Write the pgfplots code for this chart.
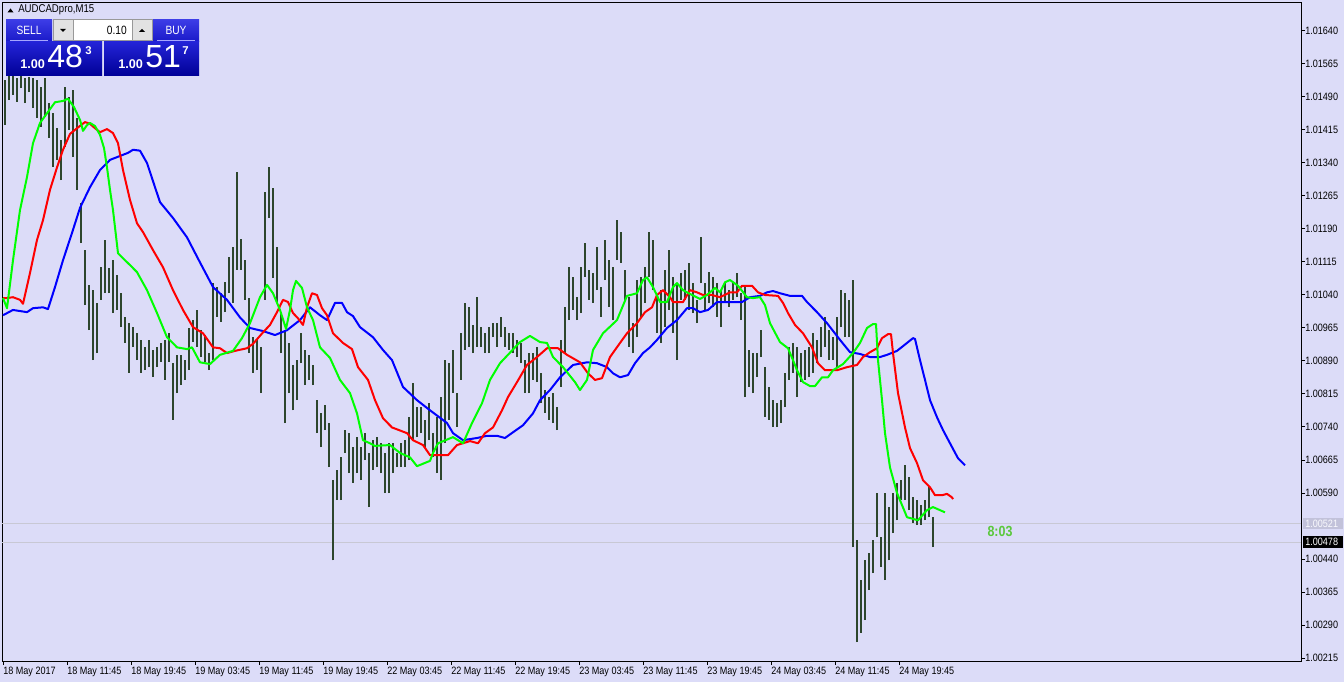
\documentclass[border=0pt]{standalone}
\usepackage{fontspec}
\setmainfont{Liberation Sans}[FakeStretch=0.85]
\newfontfamily\panelfont{Liberation Sans}
\usepackage{pgfplots}
\pgfplotsset{compat=1.18}
\usepackage{pgfplotstable}

\definecolor{bgcol}{RGB}{220,220,248}
\definecolor{barcol}{RGB}{45,70,45}
\definecolor{jawcol}{RGB}{0,0,255}
\definecolor{teethcol}{RGB}{255,0,0}
\definecolor{lipscol}{RGB}{0,255,0}
\definecolor{linecol}{RGB}{200,200,212}
\definecolor{btnTop}{RGB}{60,60,230}
\definecolor{btnBot}{RGB}{25,25,200}
\definecolor{prcTop}{RGB}{35,35,215}
\definecolor{prcBot}{RGB}{0,0,150}
\definecolor{spin}{RGB}{226,226,226}
\definecolor{timer}{RGB}{90,200,60}

% M15 bars: x position, low, high
\pgfplotstableread{
x lo hi
5 1.01426 1.01529
9 1.01483 1.01538
13 1.01495 1.01540
17 1.01479 1.01533
21 1.01510 1.01538
25 1.01476 1.01533
29 1.01501 1.01535
33 1.01465 1.01533
37 1.01442 1.01529
41 1.01422 1.01513
45 1.01445 1.01533
49 1.01397 1.01476
53 1.01331 1.01454
57 1.01347 1.01420
61 1.01301 1.01392
65 1.01376 1.01513
69 1.01415 1.01490
73 1.01354 1.01506
77 1.01279 1.01442
81 1.01158 1.01249
85 1.01017 1.01142
89 1.00960 1.01063
93 1.00892 1.01051
97 1.00908 1.01022
101 1.01029 1.01104
105 1.01044 1.01165
109 1.01044 1.01101
113 1.00999 1.01119
117 1.01006 1.01085
121 1.00967 1.01044
125 1.00931 1.00990
129 1.00863 1.00976
133 1.00922 1.00967
137 1.00892 1.00954
141 1.00863 1.00938
145 1.00869 1.00922
149 1.00876 1.00938
153 1.00854 1.00915
157 1.00876 1.00922
161 1.00888 1.00931
165 1.00847 1.00938
169 1.00888 1.00954
173 1.00756 1.00885
177 1.00817 1.00904
181 1.00835 1.00904
185 1.00847 1.00892
189 1.00869 1.00965
193 1.00933 1.00983
197 1.00922 1.01006
201 1.00899 1.00960
205 1.00888 1.00949
209 1.00869 1.00908
213 1.00892 1.01067
217 1.00990 1.01058
221 1.00979 1.01044
225 1.01001 1.01070
229 1.01044 1.01126
233 1.01022 1.01149
237 1.01097 1.01320
241 1.01097 1.01167
245 1.01029 1.01119
249 1.00908 1.01033
253 1.00863 1.00944
257 1.00869 1.00938
261 1.00817 1.00922
265 1.01029 1.01274
269 1.01215 1.01331
273 1.01079 1.01283
277 1.01022 1.01149
281 1.00908 1.00999
285 1.00749 1.00960
289 1.00817 1.00931
293 1.00778 1.00881
297 1.00801 1.00892
301 1.00885 1.00954
305 1.00835 1.00915
309 1.00847 1.00904
313 1.00835 1.00881
317 1.00726 1.00801
321 1.00694 1.00772
325 1.00733 1.00790
329 1.00649 1.00749
333 1.00437 1.00619
337 1.00574 1.00642
341 1.00574 1.00672
345 1.00681 1.00733
349 1.00635 1.00726
353 1.00613 1.00694
357 1.00635 1.00717
361 1.00619 1.00694
365 1.00665 1.00726
369 1.00558 1.00681
373 1.00642 1.00710
377 1.00649 1.00717
381 1.00635 1.00703
385 1.00590 1.00681
389 1.00590 1.00703
393 1.00635 1.00703
397 1.00649 1.00681
401 1.00649 1.00703
405 1.00649 1.00710
409 1.00665 1.00763
413 1.00710 1.00840
417 1.00717 1.00785
421 1.00726 1.00785
425 1.00694 1.00756
429 1.00710 1.00794
433 1.00672 1.00726
437 1.00635 1.00763
441 1.00619 1.00808
445 1.00703 1.00892
449 1.00756 1.00885
453 1.00817 1.00915
457 1.00740 1.00817
461 1.00847 1.00954
465 1.00915 1.01022
469 1.00922 1.01013
473 1.00908 1.00972
477 1.00922 1.01035
481 1.00922 1.00967
485 1.00908 1.00954
489 1.00908 1.00967
493 1.00944 1.00976
497 1.00922 1.00976
501 1.00944 1.00990
505 1.00922 1.00967
509 1.00915 1.00954
513 1.00908 1.00954
517 1.00899 1.00938
521 1.00885 1.00931
525 1.00817 1.00892
529 1.00817 1.00908
533 1.00847 1.00908
537 1.00842 1.00922
541 1.00794 1.00863
545 1.00772 1.00824
549 1.00756 1.00808
553 1.00749 1.00817
557 1.00733 1.00785
561 1.00831 1.00938
565 1.00908 1.01013
569 1.00983 1.01104
573 1.01006 1.01081
577 1.00983 1.01035
581 1.00999 1.01104
585 1.01081 1.01158
589 1.01029 1.01097
593 1.01022 1.01090
597 1.01051 1.01149
601 1.00990 1.01058
605 1.01074 1.01165
609 1.01013 1.01119
613 1.00983 1.01104
617 1.01119 1.01210
621 1.01113 1.01183
625 1.01029 1.01097
629 1.00922 1.01035
633 1.00908 1.00976
637 1.00944 1.01074
641 1.00990 1.01081
645 1.01022 1.01104
649 1.01081 1.01183
653 1.01051 1.01165
657 1.00954 1.01035
661 1.00931 1.01051
665 1.00967 1.01097
669 1.01006 1.01142
673 1.00954 1.01081
677 1.00892 1.01067
681 1.01029 1.01090
685 1.01029 1.01097
689 1.01006 1.01113
693 1.00999 1.01067
697 1.00976 1.01029
701 1.01067 1.01172
705 1.01006 1.01067
709 1.01022 1.01092
713 1.01013 1.01081
717 1.00990 1.01067
721 1.00967 1.01051
725 1.01022 1.01067
729 1.01013 1.01051
733 1.01029 1.01067
737 1.01035 1.01090
741 1.00983 1.01044
745 1.00808 1.01058
749 1.00831 1.00915
753 1.00817 1.00908
757 1.00854 1.00908
761 1.00899 1.00960
765 1.00763 1.00876
769 1.00756 1.00831
773 1.00740 1.00801
777 1.00740 1.00794
781 1.00749 1.00801
785 1.00785 1.00863
789 1.00847 1.00922
793 1.00863 1.00931
797 1.00808 1.00922
801 1.00842 1.00908
805 1.00847 1.00915
809 1.00854 1.00922
813 1.00863 1.00954
817 1.00885 1.00938
821 1.00899 1.00967
825 1.00922 1.00990
829 1.00892 1.00960
833 1.00892 1.00944
837 1.00876 1.00990
841 1.00967 1.01051
845 1.00944 1.01044
849 1.00944 1.01029
853 1.00467 1.01074
857 1.00251 1.00483
861 1.00272 1.00392
865 1.00301 1.00437
869 1.00369 1.00453
873 1.00408 1.00483
877 1.00490 1.00590
881 1.00422 1.00490
885 1.00392 1.00590
889 1.00437 1.00558
893 1.00499 1.00590
897 1.00528 1.00613
901 1.00574 1.00619
905 1.00574 1.00653
909 1.00551 1.00626
913 1.00522 1.00581
917 1.00517 1.00574
921 1.00517 1.00562
925 1.00528 1.00574
929 1.00535 1.00603
933 1.00467 1.00535
}\bars

% blue line
\pgfplotstableread{
x y
3 1.00994
13 1.01006
27 1.01001
33 1.01010
43 1.01012
48 1.01008
55 1.01058
63 1.01119
72 1.01181
80 1.01238
90 1.01285
100 1.01324
110 1.01347
120 1.01356
128 1.01363
133 1.01370
140 1.01368
147 1.01340
155 1.01285
160 1.01251
173 1.01215
187 1.01171
200 1.01114
213 1.01058
227 1.01029
240 1.00989
250 1.00965
263 1.00958
275 1.00949
287 1.00960
300 1.00983
310 1.01012
320 1.00994
327 1.00983
335 1.01022
342 1.01022
347 1.01001
353 1.00992
360 1.00967
373 1.00944
383 1.00915
392 1.00892
403 1.00831
417 1.00801
430 1.00778
447 1.00749
453 1.00726
463 1.00710
477 1.00715
487 1.00720
497 1.00720
505 1.00715
513 1.00728
523 1.00744
533 1.00771
540 1.00801
550 1.00824
560 1.00853
573 1.00881
587 1.00887
597 1.00885
607 1.00876
613 1.00862
620 1.00853
628 1.00858
635 1.00885
643 1.00908
650 1.00921
657 1.00938
667 1.00965
677 1.00983
687 1.01010
693 1.01010
700 1.01001
708 1.01006
717 1.01024
730 1.01024
742 1.01024
750 1.01035
760 1.01038
767 1.01046
773 1.01049
780 1.01044
790 1.01038
802 1.01038
807 1.01024
817 1.01001
827 1.00976
840 1.00938
850 1.00910
860 1.00906
870 1.00899
880 1.00899
887 1.00904
897 1.00913
907 1.00931
913 1.00942
915 1.00940
920 1.00892
925 1.00847
930 1.00801
937 1.00762
943 1.00733
950 1.00703
958 1.00669
965 1.00653
}\jaw

% red line
\pgfplotstableread{
x y
3 1.01033
7 1.01033
13 1.01035
20 1.01029
23 1.01020
30 1.01090
37 1.01165
43 1.01210
50 1.01279
57 1.01330
63 1.01370
70 1.01406
77 1.01419
85 1.01433
90 1.01429
95 1.01419
100 1.01410
107 1.01417
113 1.01408
118 1.01385
123 1.01324
130 1.01256
137 1.01203
143 1.01183
153 1.01142
163 1.01103
173 1.01051
183 1.01006
193 1.00967
203 1.00953
213 1.00921
220 1.00919
227 1.00908
235 1.00913
247 1.00919
253 1.00929
263 1.00955
270 1.00972
277 1.01001
283 1.01029
288 1.01024
293 1.00999
298 1.00987
303 1.00972
307 1.01012
312 1.01044
317 1.01040
322 1.01010
327 1.00994
333 1.00953
343 1.00931
352 1.00917
358 1.00876
368 1.00847
375 1.00801
383 1.00760
392 1.00739
407 1.00726
413 1.00710
423 1.00699
430 1.00676
448 1.00676
457 1.00699
470 1.00708
478 1.00703
485 1.00726
493 1.00739
502 1.00778
508 1.00808
517 1.00842
527 1.00881
537 1.00899
547 1.00919
558 1.00919
567 1.00904
580 1.00887
588 1.00862
595 1.00847
602 1.00851
610 1.00899
620 1.00931
627 1.00953
637 1.00976
645 1.01001
652 1.01012
657 1.01040
663 1.01051
670 1.01035
673 1.01024
683 1.01024
690 1.01051
697 1.01046
703 1.01040
712 1.01040
720 1.01035
730 1.01046
737 1.01046
742 1.01061
752 1.01061
758 1.01046
765 1.01040
778 1.01038
783 1.01022
788 1.00999
795 1.00972
803 1.00953
812 1.00921
818 1.00885
825 1.00869
837 1.00869
847 1.00876
857 1.00881
863 1.00899
870 1.00910
877 1.00919
882 1.00942
888 1.00951
891 1.00951
893 1.00908
898 1.00817
905 1.00739
910 1.00692
917 1.00658
923 1.00619
930 1.00603
935 1.00585
942 1.00585
947 1.00588
952 1.00580
953 1.00576
}\teeth

% green line
\pgfplotstableread{
x y
3 1.01033
7 1.01010
13 1.01119
20 1.01233
27 1.01308
33 1.01385
40 1.01431
47 1.01453
55 1.01478
63 1.01481
68 1.01486
74 1.01467
80 1.01438
83 1.01413
87 1.01426
90 1.01431
95 1.01424
100 1.01404
104 1.01374
107 1.01330
110 1.01279
113 1.01233
118 1.01135
125 1.01119
130 1.01108
137 1.01092
147 1.01051
157 1.00999
167 1.00944
177 1.00921
187 1.00917
192 1.00921
200 1.00887
210 1.00883
220 1.00904
233 1.00913
242 1.00942
250 1.00976
260 1.01035
267 1.01063
273 1.01044
280 1.01006
286 1.00963
290 1.01006
293 1.01051
296 1.01072
302 1.01056
307 1.01012
313 1.00983
320 1.00921
330 1.00897
340 1.00847
350 1.00817
357 1.00771
363 1.00710
370 1.00703
375 1.00697
390 1.00699
400 1.00681
410 1.00671
417 1.00651
430 1.00663
433 1.00681
438 1.00703
453 1.00717
463 1.00703
472 1.00749
482 1.00794
490 1.00847
500 1.00885
520 1.00933
530 1.00947
540 1.00933
547 1.00931
553 1.00899
563 1.00876
575 1.00842
580 1.00824
587 1.00847
593 1.00915
603 1.00953
617 1.00983
627 1.01038
637 1.01044
643 1.01074
647 1.01080
653 1.01058
660 1.01024
667 1.01024
673 1.01058
677 1.01067
683 1.01051
692 1.01040
700 1.01031
707 1.01040
715 1.01056
720 1.01046
725 1.01069
730 1.01074
738 1.01061
747 1.01035
753 1.01033
760 1.01035
765 1.01017
770 1.00976
780 1.00933
788 1.00919
793 1.00892
797 1.00869
803 1.00842
810 1.00833
815 1.00833
822 1.00853
828 1.00853
833 1.00869
843 1.00883
853 1.00908
860 1.00931
867 1.00965
873 1.00974
876 1.00974
878 1.00892
882 1.00801
885 1.00726
890 1.00648
897 1.00590
907 1.00535
918 1.00528
927 1.00551
933 1.00558
940 1.00551
945 1.00546
}\lips

\begin{document}
\begin{tikzpicture}
\path[use as bounding box, fill=bgcol] (0,0) rectangle (1008pt,511.5pt);

\begin{axis}[
  at={(1.5pt,15.75pt)}, anchor=south west,
  scale only axis, width=974.25pt, height=493.5pt,
  xmin=2, xmax=1301, ymin=1.002082, ymax=1.017036,
  axis line style={black, line width=0.75pt},
  tick style={black, line width=0.75pt},
  major tick length=3pt,
  tick align=outside,
  xtick pos=bottom, ytick pos=right,
  yticklabel pos=right,
  xtick={3,67,...,899},
  xticklabels={18 May 2017, 18 May 11:45, 18 May 19:45, 19 May 03:45, 19 May 11:45, 19 May 19:45, 22 May 03:45, 22 May 11:45, 22 May 19:45, 23 May 03:45, 23 May 11:45, 23 May 19:45, 24 May 03:45, 24 May 11:45, 24 May 19:45},
  ytick={1.00215,1.00290,1.00365,1.00440,1.00590,1.00665,1.00740,1.00815,1.00890,1.00965,1.01040,1.01115,1.01190,1.01265,1.01340,1.01415,1.01490,1.01565,1.01640},
  scaled y ticks=false,
  tick label style={font=\fontsize{8}{9}\selectfont},
  xticklabel style={anchor=north west, inner sep=0pt, yshift=-1.5pt},
  yticklabel style={anchor=west, inner sep=0pt, xshift=0pt,
    /pgf/number format/fixed, /pgf/number format/fixed zerofill,
    /pgf/number format/precision=5},
  /pgf/number format/assume math mode=true,
]
% bid and ask lines
\addplot[linecol, line width=0.75pt, forget plot] coordinates {(2,1.00478) (1301,1.00478)};
\addplot[linecol, line width=0.75pt, forget plot] coordinates {(2,1.00521) (1301,1.00521)};
% price bars (low to high)
\addplot[draw=none, mark=none, forget plot,
  error bars/.cd, y dir=plus, y explicit, error mark=none,
  error bar style={draw=barcol, line width=1.4pt}]
  table[x=x, y=lo, y error plus expr={\thisrow{hi}-\thisrow{lo}}] {\bars};
% moving averages
\addplot[jawcol, line width=1.5pt, line join=round] table[x=x, y=y] {\jaw};
\addplot[teethcol, line width=1.5pt, line join=round] table[x=x, y=y] {\teeth};
\addplot[lipscol, line width=1.5pt, line join=round] table[x=x, y=y] {\lips};
\end{axis}

% overlays in pixel units (origin top left)
\begin{scope}[x=0.75pt, y=-0.75pt, shift={(0pt,511.5pt)}]
  % price labels on the right scale
  \fill[black!12!bgcol] (1303,518) rectangle (1343,529);
  \node[anchor=west, inner sep=0, text=white!85!bgcol, font=\fontsize{8}{9}\selectfont] at (1305,523.5) {1.00521};
  \fill[black] (1303,536) rectangle (1343,548);
  \node[anchor=west, inner sep=0, text=white, font=\fontsize{8}{9}\selectfont] at (1305,542) {1.00478};
  % timer
  \node[text=timer, font=\bfseries\fontsize{11}{12}\selectfont] at (1000,531) {8:03};
  % title
  \fill[black] (7.5,12.5) -- (13.5,12.5) -- (10.5,8.5) -- cycle;
  \node[anchor=west, inner sep=0, font=\fontsize{8.5}{9}\selectfont] at (18,10) {AUDCADpro,M15};
  % sell block
  \shade[top color=btnTop, bottom color=btnBot] (6,20) rectangle (52,42);
  \shade[top color=prcTop, bottom color=prcBot] (6,42) rectangle (102,76);
  \draw[white!65!blue, line width=0.75pt] (10,41) -- (48,41);
  \node[text=white, font=\fontsize{9}{10}\selectfont] at (29,30.5) {SELL};
  % buy block
  \shade[top color=btnTop, bottom color=btnBot] (153,20) rectangle (199,42);
  \shade[top color=prcTop, bottom color=prcBot] (104,42) rectangle (199,76);
  \draw[white!65!blue, line width=0.75pt] (157,41) -- (195,41);
  \node[text=white, font=\fontsize{9}{10}\selectfont] at (176,30.5) {BUY};
  % lot spinner
  \fill[white] (73,20) rectangle (132,41);
  \fill[spin] (53,20) rectangle (73,41);
  \fill[spin] (132,20) rectangle (152,41);
  \draw[black!40, line width=0.75pt] (53,20) rectangle (152,41) (73,20) -- (73,41) (132,20) -- (132,41);
  \fill[black] (60,29) -- (66,29) -- (63,32) -- cycle;
  \fill[black] (139,32) -- (145,32) -- (142,29) -- cycle;
  \node[anchor=east, inner sep=0, font=\fontsize{9}{10}\selectfont] at (127,30.5) {0.10};
  % quotes
  \node[anchor=base west, inner sep=0, text=white, font=\panelfont\bfseries\fontsize{9.5}{10}\selectfont] at (20,69) {1.00};
  \node[anchor=base west, inner sep=0, text=white, font=\panelfont\fontsize{24}{24}\selectfont] at (47,68) {48};
  \node[anchor=base west, inner sep=0, text=white, font=\panelfont\bfseries\fontsize{8.5}{9}\selectfont] at (85,55) {3};
  \node[anchor=base west, inner sep=0, text=white, font=\panelfont\bfseries\fontsize{9.5}{10}\selectfont] at (118,69) {1.00};
  \node[anchor=base west, inner sep=0, text=white, font=\panelfont\fontsize{24}{24}\selectfont] at (145,68) {51};
  \node[anchor=base west, inner sep=0, text=white, font=\panelfont\bfseries\fontsize{8.5}{9}\selectfont] at (182,55) {7};
\end{scope}
\end{tikzpicture}
\end{document}
